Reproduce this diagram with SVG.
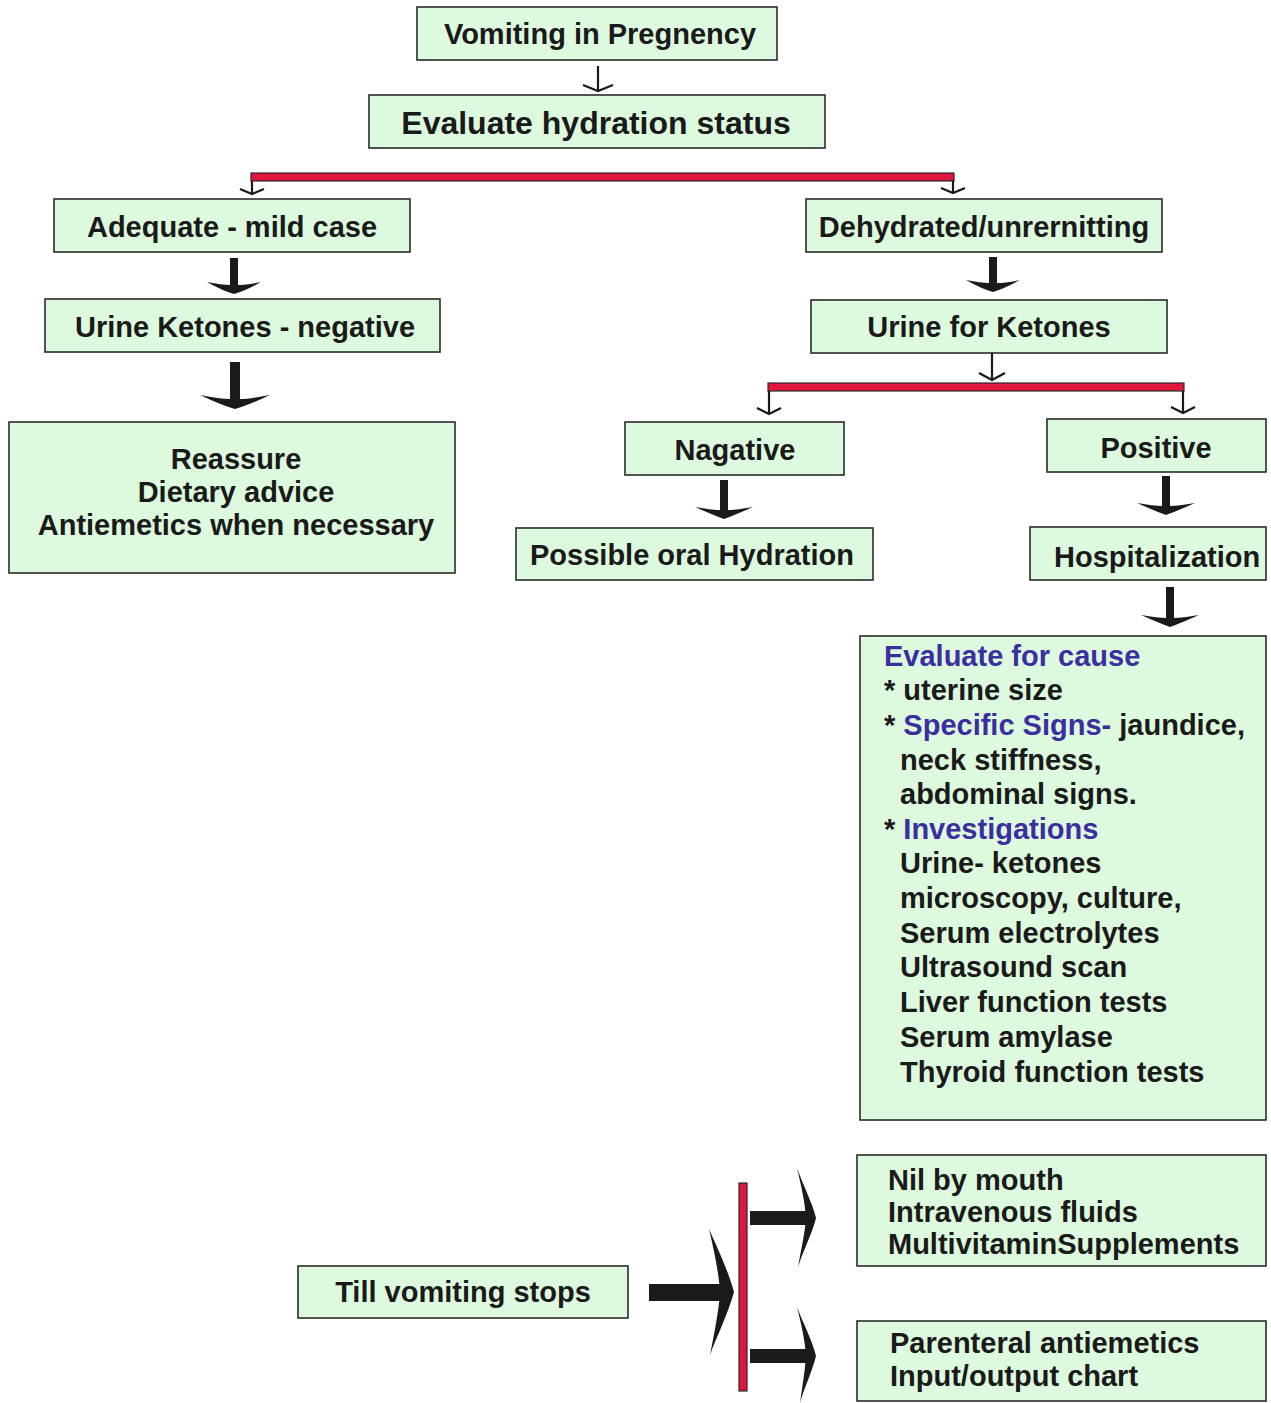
<svg xmlns="http://www.w3.org/2000/svg" width="1271" height="1403" viewBox="0 0 1271 1403">
<style>
.box{fill:#ddf9de;stroke:#2b2b2b;stroke-width:1.6}
.t{font-family:"Liberation Sans",Arial,sans-serif;font-weight:bold;font-size:29px;fill:#1a1a1a}
.c{text-anchor:middle}
.b{fill:#3b2fa0}
.thin{fill:none;stroke:#1a1a1a;stroke-width:2.2}
.thick{fill:#1a1a1a}
.red{fill:#e0163f;stroke:#2b2b2b;stroke-width:1.2}
</style>
<rect width="1271" height="1403" fill="#ffffff"/>

<g id="connectors">
  <path class="thin" d="M598,66 V91 M583,85 L598,91 L613,85"/>
  <rect class="red" x="251" y="173" width="703" height="8"/>
  <path class="thin" d="M252,181 V194 M240,189 L252,194 L264,189"/>
  <path class="thin" d="M953,181 V193 M941,188 L953,193 L965,188"/>
  <path class="thick" d="M230,258 H238 V285 Q246,285 261,282 Q245,291 234,294 Q223,291 207,282 Q222,285 230,285 Z"/>
  <path class="thick" d="M230,362 H240 V399 Q250,399 270,395 Q249,405 235,409 Q221,405 200,395 Q220,399 230,399 Z"/>
  <path class="thick" d="M989,257 H997 V283 Q1005,283 1020,280 Q1004,289 993,292 Q982,289 966,280 Q981,283 989,283 Z"/>
  <path class="thin" d="M992,353 V380 M979,373 L992,380 L1005,373"/>
  <rect class="red" x="768" y="383" width="416" height="8"/>
  <path class="thin" d="M769,391 V414 M757,408 L769,414 L781,408"/>
  <path class="thin" d="M1183,391 V413 M1171,407 L1183,413 L1195,407"/>
  <path class="thick" d="M720,480 H728 V510 Q736,510 753,507 Q735,515 724,519 Q713,515 695,507 Q712,510 720,510 Z"/>
  <path class="thick" d="M1162,476 H1170 V506 Q1178,506 1195,503 Q1177,511 1166,515 Q1155,511 1137,503 Q1154,506 1162,506 Z"/>
  <path class="thick" d="M1166,587 H1174 V618 Q1182,618 1199,615 Q1181,623 1170,627 Q1159,623 1141,615 Q1158,618 1166,618 Z"/>
  <rect class="thick" x="649" y="1284" width="73" height="17"/>
  <path class="thick" d="M709,1229 C716,1245 728,1270 734,1292 C728,1314 716,1338 710,1355 C714,1335 719,1310 720,1292 C719,1274 714,1250 709,1229 Z"/>
  <rect class="red" x="739" y="1183" width="8" height="208"/>
  <rect class="thick" x="750" y="1211" width="57" height="14"/>
  <path class="thick" d="M797,1168 C803,1185 812,1202 816,1218 C812,1234 803,1251 798,1267 C801,1250 805,1233 806,1218 C805,1202 801,1185 797,1168 Z"/>
  <rect class="thick" x="750" y="1349" width="57" height="14"/>
  <path class="thick" d="M797,1307 C803,1323 812,1340 816,1356 C812,1372 804,1388 800,1403 C802,1388 805,1371 806,1356 C805,1340 801,1323 797,1307 Z"/>
</g>

<g id="n-vomiting">
  <rect class="box" x="417" y="7" width="360" height="53"/>
  <text class="t c" x="600" y="44">Vomiting in Pregnency</text>
</g>
<g id="n-evaluate">
  <rect class="box" x="369" y="95" width="456" height="53"/>
  <text class="t c" x="596" y="134" style="font-size:32px">Evaluate hydration status</text>
</g>
<g id="n-adequate">
  <rect class="box" x="54" y="199" width="356" height="53"/>
  <text class="t c" x="232" y="237">Adequate - mild case</text>
</g>
<g id="n-urine-neg">
  <rect class="box" x="45" y="299" width="395" height="53"/>
  <text class="t c" x="245" y="337">Urine Ketones - negative</text>
</g>
<g id="n-reassure">
  <rect class="box" x="9" y="422" width="446" height="151"/>
  <text class="t c" x="236" y="469">Reassure</text>
  <text class="t c" x="236" y="502">Dietary advice</text>
  <text class="t c" x="236" y="535">Antiemetics when necessary</text>
</g>
<g id="n-dehydrated">
  <rect class="box" x="806" y="199" width="356" height="53"/>
  <text class="t c" x="984" y="237">Dehydrated/unrernitting</text>
</g>
<g id="n-urine-ketones">
  <rect class="box" x="811" y="300" width="356" height="53"/>
  <text class="t c" x="989" y="337">Urine for Ketones</text>
</g>
<g id="n-nagative">
  <rect class="box" x="625" y="422" width="219" height="53"/>
  <text class="t c" x="735" y="460">Nagative</text>
</g>
<g id="n-oral">
  <rect class="box" x="516" y="528" width="357" height="52"/>
  <text class="t c" x="692" y="565">Possible oral Hydration</text>
</g>
<g id="n-positive">
  <rect class="box" x="1047" y="419" width="219" height="53"/>
  <text class="t c" x="1156" y="458">Positive</text>
</g>
<g id="n-hospital">
  <rect class="box" x="1030" y="527" width="236" height="53"/>
  <text class="t" x="1054" y="567">Hospitalization</text>
</g>
<g id="n-cause">
  <rect class="box" x="860" y="636" width="406" height="484"/>
  <text class="t b" x="884" y="666">Evaluate for cause</text>
  <text class="t" x="884" y="700">* uterine size</text>
  <text class="t" x="884" y="735">* <tspan class="b">Specific Signs-</tspan> jaundice,</text>
  <text class="t" x="900" y="770">neck stiffness,</text>
  <text class="t" x="900" y="804">abdominal signs.</text>
  <text class="t" x="884" y="839">* <tspan class="b">Investigations</tspan></text>
  <text class="t" x="900" y="873">Urine- ketones</text>
  <text class="t" x="900" y="908">microscopy, culture,</text>
  <text class="t" x="900" y="943">Serum electrolytes</text>
  <text class="t" x="900" y="977">Ultrasound scan</text>
  <text class="t" x="900" y="1012">Liver function tests</text>
  <text class="t" x="900" y="1047">Serum amylase</text>
  <text class="t" x="900" y="1082">Thyroid function tests</text>
</g>
<g id="n-till">
  <rect class="box" x="298" y="1266" width="330" height="52"/>
  <text class="t c" x="463" y="1302">Till vomiting stops</text>
</g>
<g id="n-nil">
  <rect class="box" x="857" y="1155" width="409" height="111"/>
  <text class="t" x="888" y="1190">Nil by mouth</text>
  <text class="t" x="888" y="1222">Intravenous fluids</text>
  <text class="t" x="888" y="1254">MultivitaminSupplements</text>
</g>
<g id="n-parenteral">
  <rect class="box" x="857" y="1321" width="409" height="80"/>
  <text class="t" x="890" y="1353">Parenteral antiemetics</text>
  <text class="t" x="890" y="1386">Input/output chart</text>
</g>
</svg>
